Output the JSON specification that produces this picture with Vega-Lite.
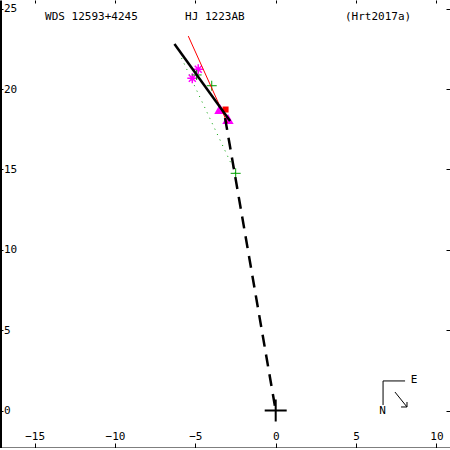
{
  "$schema": "https://vega.github.io/schema/vega-lite/v6.json",
  "width": 450,
  "height": 448,
  "autosize": "none",
  "padding": 0,
  "background": "white",
  "config": {
    "view": {"stroke": null},
    "axis": {
      "grid": false,
      "labelFont": "DejaVu Sans Mono",
      "labelFontSize": 11,
      "labelColor": "black",
      "tickColor": "black",
      "domainColor": "black",
      "title": null
    }
  },
  "datasets": {
    "fit": [{"x": -6.30, "y": 22.81}, {"x": -2.84, "y": 18.01}],
    "redline": [{"x": -5.44, "y": 23.30}, {"x": -3.00, "y": 17.89}],
    "dashed": [{"x": 0, "y": 0}, {"x": -3.15, "y": 18.2}],
    "dotted": [{"x": -5.86, "y": 21.93}, {"x": -2.49, "y": 14.76}],
    "tri": [{"x": -3.47, "y": 18.76}, {"x": -2.97, "y": 18.14}],
    "star": [{"x": -5.19, "y": 20.67}, {"x": -4.82, "y": 21.23}],
    "green": [{"x": -4.92, "y": 20.88}, {"x": -3.98, "y": 20.21}, {"x": -2.49, "y": 14.76}],
    "red": [{"x": -3.12, "y": 18.73}],
    "origin": [{"x": 0, "y": 0}],
    "labels": [
      {"x": -14.35, "y": 24.49, "t": "WDS 12593+4245"},
      {"x": -5.64, "y": 24.49, "t": "HJ 1223AB"},
      {"x": 4.31, "y": 24.49, "t": "(Hrt2017a)"},
      {"x": 8.40, "y": 1.90, "t": "E"},
      {"x": 6.45, "y": -0.03, "t": "N"}
    ],
    "compass": [
      {"x1": 6.68, "y1": 1.84, "x2": 8.05, "y2": 1.84},
      {"x1": 6.68, "y1": 1.84, "x2": 6.68, "y2": 0.34},
      {"x1": 7.42, "y1": 1.15, "x2": 8.17, "y2": 0.22},
      {"x1": 8.17, "y1": 0.22, "x2": 7.80, "y2": 0.22},
      {"x1": 8.17, "y1": 0.22, "x2": 8.17, "y2": 0.53}
    ]
  },
  "resolve": {"axis": {"x": "independent", "y": "independent"}},
  "layer": [
    {
      "data": {"name": "dotted"},
      "mark": {"type": "line", "color": "#00A000", "strokeWidth": 1, "strokeDash": [1, 5]},
      "encoding": {
        "x": {"field": "x", "type": "quantitative", "scale": {"domain": [-17.156, 10.846], "nice": false, "zero": false},
          "axis": {"orient": "bottom", "values": [-15, -10, -5, 0, 5, 10], "tickSize": -5, "labelPadding": -3.5, "labelBaseline": "alphabetic", "domainWidth": 2}},
        "y": {"field": "y", "type": "quantitative", "scale": {"domain": [-2.333, 25.545], "nice": false, "zero": false},
          "axis": {"orient": "left", "values": [0, 5, 10, 15, 20, 25], "tickSize": -3, "labelPadding": -0.5, "labelAlign": "left", "labelBaseline": "middle", "domainWidth": 3}}
      }
    },
    {
      "data": {"name": "tri"},
      "mark": {"type": "point", "shape": "triangle-up", "filled": true, "color": "#FF00FF", "size": 130, "opacity": 1},
      "encoding": {
        "x": {"field": "x", "type": "quantitative",
          "axis": {"orient": "top", "values": [-15, -10, -5, 0, 5, 10], "tickSize": -3, "labels": false, "domain": false}},
        "y": {"field": "y", "type": "quantitative",
          "axis": {"orient": "right", "values": [0, 5, 10, 15, 20, 25], "tickSize": -4, "labels": false, "domain": false}}
      }
    },
    {
      "data": {"name": "star"},
      "mark": {"type": "point", "shape": "M-1,0L1,0M0,-1L0,1M-0.7,-0.7L0.7,0.7M-0.7,0.7L0.7,-0.7", "filled": false, "color": "#FF00FF", "size": 100, "strokeWidth": 1.5, "opacity": 1},
      "encoding": {
        "x": {"field": "x", "type": "quantitative", "axis": null},
        "y": {"field": "y", "type": "quantitative", "axis": null}
      }
    },
    {
      "data": {"name": "green"},
      "mark": {"type": "point", "shape": "M-1,0L1,0M0,-1L0,1", "filled": false, "color": "#00A000", "size": 100, "strokeWidth": 1, "opacity": 1},
      "encoding": {
        "x": {"field": "x", "type": "quantitative", "axis": null},
        "y": {"field": "y", "type": "quantitative", "axis": null}
      }
    },
    {
      "data": {"name": "redline"},
      "mark": {"type": "line", "color": "#FF0000", "strokeWidth": 1},
      "encoding": {
        "x": {"field": "x", "type": "quantitative", "axis": null},
        "y": {"field": "y", "type": "quantitative", "axis": null}
      }
    },
    {
      "data": {"name": "red"},
      "mark": {"type": "point", "shape": "square", "filled": true, "color": "#FF0000", "size": 36, "opacity": 1},
      "encoding": {
        "x": {"field": "x", "type": "quantitative", "axis": null},
        "y": {"field": "y", "type": "quantitative", "axis": null}
      }
    },
    {
      "data": {"name": "fit"},
      "mark": {"type": "line", "color": "black", "strokeWidth": 2.5},
      "encoding": {
        "x": {"field": "x", "type": "quantitative", "axis": null},
        "y": {"field": "y", "type": "quantitative", "axis": null}
      }
    },
    {
      "data": {"name": "dashed"},
      "mark": {"type": "line", "color": "black", "strokeWidth": 2.5, "strokeDash": [12, 8]},
      "encoding": {
        "x": {"field": "x", "type": "quantitative", "axis": null},
        "y": {"field": "y", "type": "quantitative", "axis": null}
      }
    },
    {
      "data": {"name": "origin"},
      "mark": {"type": "point", "shape": "M-1,0L1,0M0,-1L0,1", "filled": false, "color": "black", "size": 484, "strokeWidth": 2, "opacity": 1},
      "encoding": {
        "x": {"field": "x", "type": "quantitative", "axis": null},
        "y": {"field": "y", "type": "quantitative", "axis": null}
      }
    },
    {
      "data": {"name": "compass"},
      "mark": {"type": "rule", "color": "black", "strokeWidth": 1},
      "encoding": {
        "x": {"field": "x1", "type": "quantitative", "axis": null},
        "y": {"field": "y1", "type": "quantitative", "axis": null},
        "x2": {"field": "x2"},
        "y2": {"field": "y2"}
      }
    },
    {
      "data": {"name": "labels"},
      "mark": {"type": "text", "font": "DejaVu Sans Mono", "fontSize": 11, "color": "black", "align": "left", "baseline": "middle"},
      "encoding": {
        "x": {"field": "x", "type": "quantitative", "axis": null},
        "y": {"field": "y", "type": "quantitative", "axis": null},
        "text": {"field": "t"}
      }
    }
  ]
}
